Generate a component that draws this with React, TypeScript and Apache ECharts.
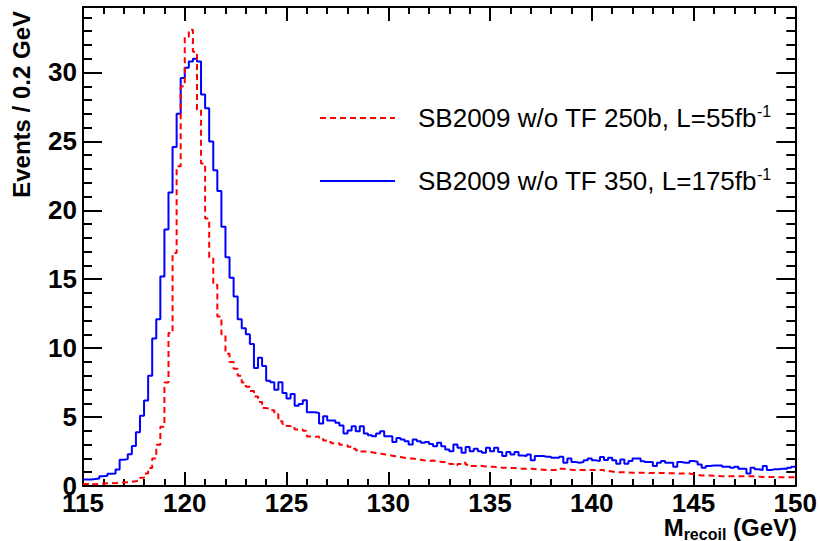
import React, { useEffect, useRef } from "react";
import * as echarts from "echarts";

// Histogram binning (bin lower edge of first bin, bin width in GeV)
const BIN_START = 115;
const BIN_WIDTH = 0.2;
const X_MIN = 115;
const X_MAX = 150;
const Y_MAX = 34.75;

const LEGEND_RED = "SB2009 w/o TF 250b, L=55fb";
const LEGEND_BLUE = "SB2009 w/o TF 350, L=175fb";

// Events / 0.2 GeV, "SB2009 w/o TF 350, L=175fb-1" (blue, solid)
const BLUE_350 = [
  0.47, 0.47, 0.5, 0.55, 0.7, 0.75, 0.88, 0.9, 1.2, 1.9,
  1.95, 2.3, 2.9, 3.9, 5.1, 6.2, 8.0, 10.7, 12.1, 15.2,
  18.6, 21.3, 24.6, 27.0, 29.6, 30.35, 30.8, 31.0, 30.8, 28.4,
  27.4, 25.0, 22.9, 21.4, 18.8, 16.6, 15.1, 13.75, 12.1, 11.45,
  11.0, 10.3, 8.56, 9.3, 8.7, 7.64, 7.52, 6.99, 7.52, 6.75,
  6.34, 6.68, 5.83, 5.95, 6.22, 5.35, 5.35, 5.3, 4.53, 5.06,
  4.75, 4.75, 4.58, 4.39, 3.8, 4.02, 4.34, 3.97, 4.34, 3.8,
  3.68, 3.61, 3.8, 3.97, 3.61, 3.61, 3.2, 3.49, 3.37, 3.25,
  3.01, 3.37, 3.25, 3.13, 3.2, 3.05, 2.89, 3.13, 2.89, 2.65,
  2.53, 3.01, 2.77, 2.41, 2.83, 2.53, 2.7, 2.53, 2.41, 2.77,
  2.53, 2.77, 2.46, 2.17, 2.46, 2.29, 2.46, 2.22, 2.17, 2.29,
  1.86, 2.17, 2.17, 2.12, 2.12, 2.05, 2.05, 2.12, 1.69, 2.0,
  1.74, 1.69, 1.74, 1.86, 2.0, 1.86, 1.81, 2.1, 1.88, 2.05,
  1.86, 1.62, 1.93, 1.62, 1.81, 2.0, 2.0, 1.8, 1.74, 1.74,
  1.45, 1.69, 1.81, 1.69, 1.69, 1.4, 1.74, 1.69, 1.69, 1.81,
  1.76, 1.56, 1.33, 1.45, 1.49, 1.49, 1.49, 1.4, 1.4, 1.33,
  1.4, 1.26, 1.26, 0.9, 1.33, 1.21, 1.16, 1.45, 1.16, 1.21,
  1.21, 1.26, 1.26, 1.33, 1.4,
];

// Events / 0.2 GeV, "SB2009 w/o TF 250b, L=55fb-1" (red, dashed)
const RED_250 = [
  0.15, 0.18, 0.12, 0.15, 0.18, 0.2, 0.22, 0.2, 0.25, 0.25,
  0.28, 0.3, 0.35, 0.4, 0.59, 0.9, 1.3, 2.0, 3.0, 4.3,
  7.5, 11.1, 16.9, 23.2, 29.0, 32.6, 33.1, 31.5, 27.3, 23.4,
  19.4, 16.6, 14.6, 12.3, 11.0, 9.6, 9.0, 8.5, 8.0, 7.5,
  7.2, 6.9, 6.5, 6.1, 5.65, 5.6, 5.5, 5.2, 4.7, 4.5,
  4.35, 4.2, 4.1, 4.1, 4.0, 3.6, 3.55, 3.6, 3.5, 3.3,
  3.2, 3.1, 3.1, 3.0, 2.95, 2.85, 2.7, 2.6, 2.5, 2.5,
  2.45, 2.4, 2.35, 2.3, 2.25, 2.2, 2.15, 2.1, 2.05, 2.0,
  2.0, 1.95, 1.9, 1.85, 1.8, 1.85, 1.8, 1.75, 1.74, 1.7,
  1.6, 1.5, 1.6, 1.69, 1.55, 1.45, 1.45, 1.45, 1.42, 1.4,
  1.4, 1.35, 1.33, 1.33, 1.3, 1.3, 1.28, 1.26, 1.26, 1.26,
  1.24, 1.2, 1.18, 1.16, 1.16, 1.16, 1.2, 1.26, 1.22, 1.18,
  1.16, 1.16, 1.16, 1.16, 1.16, 1.16, 1.16, 1.16, 1.1, 1.05,
  1.0, 1.0, 1.0, 0.98, 0.96, 0.96, 0.96, 0.96, 0.95, 0.95,
  0.95, 0.95, 0.94, 0.93, 0.92, 0.92, 0.9, 0.9, 0.9, 0.85,
  0.8, 0.76, 0.76, 0.76, 0.74, 0.72, 0.71, 0.71, 0.71, 0.71,
  0.71, 0.71, 0.7, 0.7, 0.7, 0.68, 0.66, 0.66, 0.66, 0.65,
  0.64, 0.64, 0.64, 0.64, 0.64,
];

const FONT = "'Liberation Sans', Arial, Helvetica, sans-serif";

function toSteps(vals: number[]): number[][] {
  const pts = vals.map((v, i) => [+(BIN_START + i * BIN_WIDTH).toFixed(2), v]);
  pts.push([+(BIN_START + vals.length * BIN_WIDTH).toFixed(2), vals[vals.length - 1]]);
  return pts;
}

const black = "#000";

function xAxisDef(position: "top" | "bottom", showLabel: boolean) {
  return {
    type: "value",
    position,
    min: X_MIN,
    max: X_MAX,
    interval: 5,
    axisLine: { show: true, onZero: false, lineStyle: { color: black, width: 2 } },
    axisTick: { show: true, inside: true, length: 14, lineStyle: { color: black, width: 2 } },
    minorTick: { show: true, splitNumber: 5, length: 7, lineStyle: { color: black, width: 2 } },
    splitLine: { show: false },
    minorSplitLine: { show: false },
    axisLabel: {
      show: showLabel,
      margin: 4,
      fontSize: 26,
      fontWeight: "bold",
      fontFamily: FONT,
      color: black,
    },
  };
}

function yAxisDef(position: "left" | "right", major: boolean, showLabel: boolean) {
  return {
    type: "value",
    position,
    min: 0,
    max: Y_MAX,
    interval: major ? 5 : 1,
    axisLine: { show: major, onZero: false, lineStyle: { color: black, width: 2 } },
    axisTick: {
      show: true,
      inside: true,
      length: major ? 19 : 9,
      lineStyle: { color: black, width: 2 },
    },
    splitLine: { show: false },
    axisLabel: {
      show: showLabel,
      showMaxLabel: false,
      margin: 6,
      fontSize: 26,
      fontWeight: "bold",
      fontFamily: FONT,
      color: black,
    },
  };
}

export default function App() {
  const ref = useRef<HTMLDivElement>(null);

  useEffect(() => {
    if (!ref.current) return;
    const chart = echarts.init(ref.current, null, { renderer: "svg" });
    const supRich = {
      sup: { fontSize: 16, fontFamily: FONT, fill: black, lineHeight: 20, verticalAlign: "top" },
    };
    chart.setOption({
      animation: false,
      backgroundColor: "#fff",
      grid: { left: 83, right: 23, top: 7, bottom: 55, containLabel: false },
      xAxis: [xAxisDef("bottom", true), xAxisDef("top", false)],
      yAxis: [
        yAxisDef("left", true, true),
        yAxisDef("left", false, false),
        yAxisDef("right", true, false),
        yAxisDef("right", false, false),
      ],
      series: [
        {
          type: "line",
          name: LEGEND_BLUE,
          xAxisIndex: 0,
          yAxisIndex: 0,
          step: "end",
          symbol: "none",
          data: toSteps(BLUE_350),
          lineStyle: { color: "#0000ff", width: 2 },
          silent: true,
        },
        {
          type: "line",
          name: LEGEND_RED,
          xAxisIndex: 0,
          yAxisIndex: 0,
          step: "end",
          symbol: "none",
          data: toSteps(RED_250),
          lineStyle: { color: "#ff0000", width: 2, type: [6, 4] },
          silent: true,
        },
      ],
      graphic: [
        {
          type: "line",
          shape: { x1: 320, y1: 118, x2: 395, y2: 118 },
          style: { stroke: "#ff0000", lineWidth: 2, lineDash: [6, 4] },
        },
        {
          type: "text",
          x: 418,
          y: 118,
          style: {
            text: LEGEND_RED + "{sup|-1}",
            fontSize: 26,
            fontFamily: FONT,
            fill: black,
            lineHeight: 30,
            verticalAlign: "middle",
            rich: supRich,
          },
        },
        {
          type: "line",
          shape: { x1: 320, y1: 181, x2: 395, y2: 181 },
          style: { stroke: "#0000ff", lineWidth: 2 },
        },
        {
          type: "text",
          x: 418,
          y: 181,
          style: {
            text: LEGEND_BLUE + "{sup|-1}",
            fontSize: 26,
            fontFamily: FONT,
            fill: black,
            lineHeight: 30,
            verticalAlign: "middle",
            rich: supRich,
          },
        },
        {
          type: "text",
          x: 21,
          y: 11,
          rotation: Math.PI / 2,
          style: {
            text: "Events / 0.2 GeV",
            fontSize: 24,
            fontWeight: "bold",
            fontFamily: FONT,
            fill: black,
            align: "right",
            verticalAlign: "middle",
          },
        },
        {
          type: "text",
          x: 797,
          y: 527,
          style: {
            text: "M{sub|recoil} (GeV)",
            fontSize: 24,
            fontWeight: "bold",
            fontFamily: FONT,
            fill: black,
            lineHeight: 30,
            align: "right",
            verticalAlign: "middle",
            rich: {
              sub: { fontSize: 16, fontWeight: "bold", fontFamily: FONT, fill: black, lineHeight: 12, verticalAlign: "bottom" },
            },
          },
        },
      ],
    });
    return () => chart.dispose();
  }, []);

  return (
    <div
      ref={ref}
      style={{ position: "fixed", left: 0, top: 0, width: 820, height: 541, background: "#fff" }}
    />
  );
}
